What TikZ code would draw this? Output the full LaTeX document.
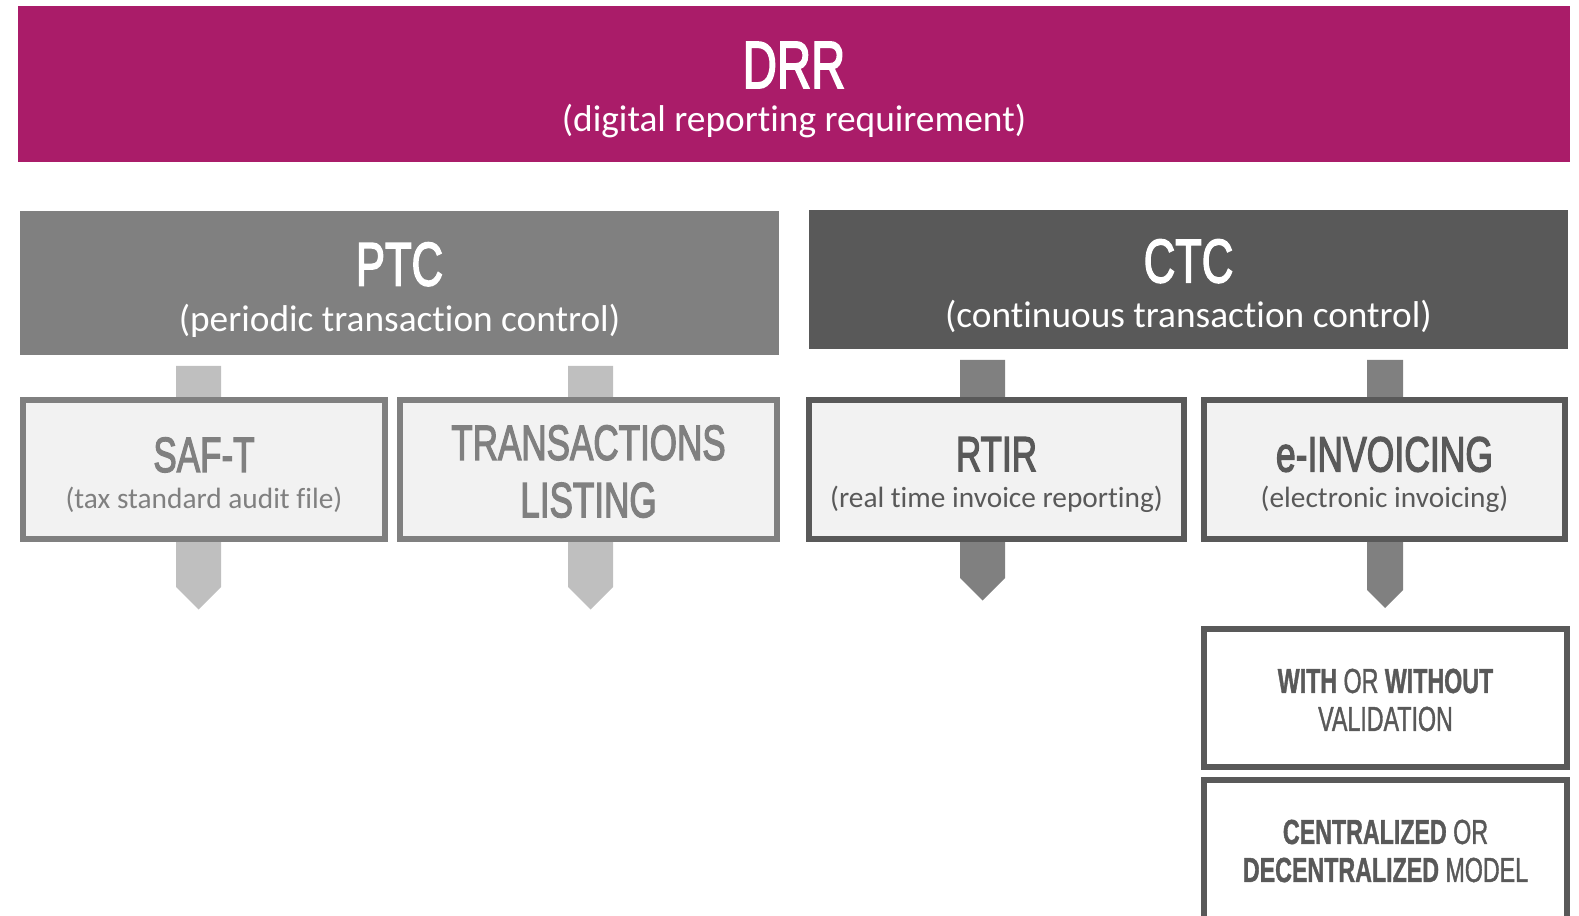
\documentclass[tikz,border=0pt]{standalone}
\usepackage{graphicx}
\usepackage{fontspec}
\usepackage{tikz}
\usetikzlibrary{calc,backgrounds}

\setmainfont{Carlito}[RawFeature=-liga, RawFeature=-clig, RawFeature=-calt, RawFeature=-dlig, RawFeature=-rlig]
\newfontfamily\hdfont{Liberation Sans}[FakeBold=3]
\newfontfamily\optfont{Liberation Sans}[FakeBold=1.5]

\definecolor{drrpink}{HTML}{AA1C69}
\definecolor{ptcgrey}{HTML}{808080}
\definecolor{ctcgrey}{HTML}{595959}
\definecolor{lightstub}{HTML}{BFBFBF}
\definecolor{tilefill}{HTML}{F2F2F2}

% one pixel of the picture
\newcommand{\px}{0.75pt}
% condensed heading text
\newcommand{\hd}[2][0.71]{\scalebox{#1}[1]{#2}}
% block arrow from a parent box through a child box
\newcommand{\stubarrow}[6]{%
  \path ($(#2.south)+(#3,0)$) coordinate (s-b) ($(#1.south)+(0,11)$) coordinate (s-t);
  \fill[#6] ($(s-b |- s-t)+(-#4,0)$) -- ($(s-b |- s-t)+(#4,0)$)
    -- ($(s-b)+(#4,#5)$) -- ($(s-b)+(0,#5+#4)$) -- ($(s-b)+(-#4,#5)$) -- cycle;}

\tikzset{
  band/.style={rectangle, fill=#1, draw=none, outer sep=0pt, inner sep=0pt},
  tile/.style={rectangle, fill=tilefill, draw=#1, line width=6*\px, outer sep=0pt, inner sep=0pt},
  wtile/.style={rectangle, fill=white, draw=ctcgrey, line width=6*\px, outer sep=0pt, inner sep=0pt},
  txt/.style={align=center, inner sep=0pt, text=#1},
}

\begin{document}
\begin{tikzpicture}[x=\px, y=-\px]
  \clip (0,0) rectangle (1579,916);

  % top level
  \node[band=drrpink, minimum width=1552*\px, minimum height=156*\px] (drr) at (794,84) {};
  \node[txt=white, font=\fontsize{28}{32.6}\selectfont] (drr-t) at ($(drr.center)+(0,6)$)
    {{\hdfont\fontsize{50}{50}\selectfont\hd{DRR}}\\(digital reporting requirement)};

  % PTC / CTC
  \node[band=ptcgrey, minimum width=759*\px, minimum height=144*\px] (ptc) at (399.5,283) {};
  \node[txt=white, font=\fontsize{28}{34.5}\selectfont] (ptc-t) at ($(ptc.center)+(0,7)$)
    {{\hdfont\fontsize{46}{46}\selectfont\hd{PTC}}\\(periodic transaction control)};
  \node[band=ctcgrey, minimum width=759*\px, minimum height=139*\px] (ctc) at (1188.5,279.5) {};
  \node[txt=white, font=\fontsize{28}{33.8}\selectfont] (ctc-t) at ($(ctc.center)+(0,6.5)$)
    {{\hdfont\fontsize{46}{46}\selectfont\hd{CTC}}\\(continuous transaction control)};

  % second row
  \node[tile=ptcgrey, minimum width=362*\px, minimum height=139*\px] (saft) at (204,469.5) {};
  \node[txt=ptcgrey, font=\fontsize{22}{27.4}\selectfont] (saft-t) at ($(saft.center)+(0,5.5)$)
    {{\hdfont\fontsize{37}{37}\selectfont\hd{SAF-T}}\\(tax standard audit file)};
  \node[tile=ptcgrey, minimum width=377*\px, minimum height=139*\px] (trans) at (588.5,469.5) {};
  \node[txt=ptcgrey, font=\hdfont\fontsize{37}{43}\selectfont] (trans-t) at ($(trans.center)+(0,2)$)
    {\hd{TRANSACTIONS}\\\hd{LISTING}};
  \node[tile=ctcgrey, minimum width=375*\px, minimum height=139*\px] (rtir) at (996.5,469.5) {};
  \node[txt=ctcgrey, font=\fontsize{22}{27.4}\selectfont] (rtir-t) at ($(rtir.center)+(0,5.5)$)
    {{\hdfont\fontsize{37}{37}\selectfont\hd{RTIR}}\\(real time invoice reporting)};
  \node[tile=ctcgrey, minimum width=361*\px, minimum height=139*\px] (einv) at (1384.5,469.5) {};
  \node[txt=ctcgrey, font=\fontsize{22}{27.4}\selectfont] (einv-t) at ($(einv.center)+(0,5.5)$)
    {{\hdfont\fontsize{37}{37}\selectfont\hd[0.72]{e-INVOICING}}\\(electronic invoicing)};

  % e-invoicing options
  \node[wtile, minimum width=363*\px, minimum height=138*\px] (valid) at (1385.5,698) {};
  \node[txt=ctcgrey, font=\optfont\fontsize{26}{28.5}\selectfont] (valid-t) at ($(valid.center)+(0,2)$)
    {\hd[0.67]{\textbf{WITH} OR \textbf{WITHOUT}}\\\hd[0.67]{VALIDATION}};
  \node[wtile, minimum width=363*\px, minimum height=145*\px] (model) at (1385.5,852.5) {};
  \node[txt=ctcgrey, font=\optfont\fontsize{26}{28.5}\selectfont] (model-t) at ($(model.center)+(0,-1.5)$)
    {\hd[0.67]{\textbf{CENTRALIZED} OR}\\\hd[0.67]{\textbf{DECENTRALIZED} MODEL}};

  % block arrows behind the boxes
  \begin{scope}[on background layer]
    \stubarrow{ptc}{saft}{-5.5}{22.5}{48}{lightstub}
    \stubarrow{ptc}{trans}{2}{22.5}{48}{lightstub}
    \stubarrow{ctc}{rtir}{-14}{22.5}{39}{ptcgrey}
    \stubarrow{ctc}{einv}{0.5}{18}{51}{ptcgrey}
  \end{scope}
\end{tikzpicture}
\end{document}
